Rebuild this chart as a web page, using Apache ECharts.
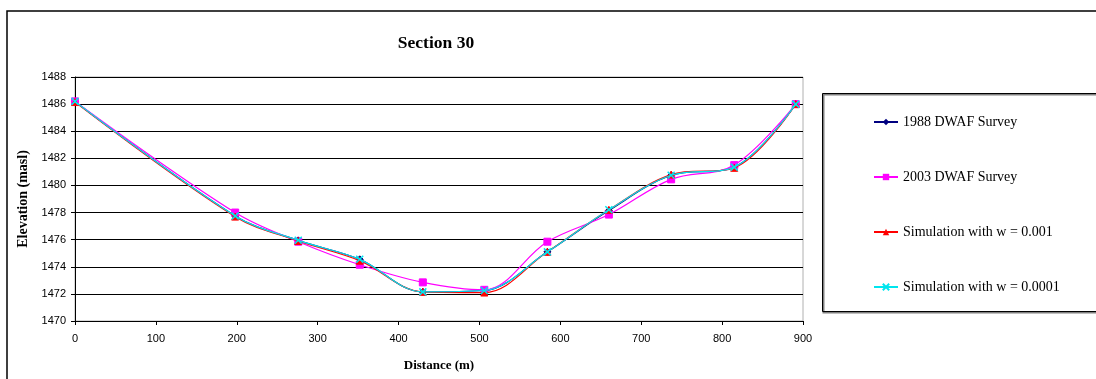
<!DOCTYPE html>
<html>
<head>
<meta charset="utf-8">
<script src="https://cdn.jsdelivr.net/npm/echarts@6/dist/echarts.min.js"></script>
<style>
  html, body { margin: 0; padding: 0; background: #fff; }
  #chart { width: 1096px; height: 379px; }
</style>
</head>
<body>
<div id="chart"></div>
<script>
// Cross-section survey stations (distance along section, m)
const distance = [0, 198, 276, 352, 430, 506, 584, 660, 737, 815, 891];

// Bed elevations (masl) per station
const survey1988 = [1486.2, 1477.75, 1475.95, 1474.55, 1472.15, 1472.25, 1475.1, 1478.15, 1480.75, 1481.35, 1486.0];
const survey2003 = [1486.2, 1478.0, 1475.85, 1474.15, 1472.85, 1472.3, 1475.85, 1477.85, 1480.45, 1481.5, 1486.0];
const simW001    = [1486.15, 1477.7, 1475.9, 1474.45, 1472.15, 1472.1, 1475.1, 1478.2, 1480.8, 1481.3, 1486.0];
const simW0001   = [1486.2, 1477.75, 1475.95, 1474.55, 1472.15, 1472.25, 1475.1, 1478.2, 1480.75, 1481.35, 1486.0];

const seriesNames = ['1988 DWAF Survey', '2003 DWAF Survey', 'Simulation with w = 0.001', 'Simulation with w = 0.0001'];
const xTicks = [0, 100, 200, 300, 400, 500, 600, 700, 800, 900];
const yTicks = [1470, 1472, 1474, 1476, 1478, 1480, 1482, 1484, 1486, 1488];

const pairs = ys => distance.map((d, i) => [d, ys[i]]);

const serif = '"Liberation Serif", "DejaVu Serif", serif';
const sans = '"Liberation Sans", Arial, sans-serif';

const chart = echarts.init(document.getElementById('chart'), null, { renderer: 'canvas' });

const mkSeries = (name, data, color, symbol, size, z) => ({
  name, type: 'line', data: pairs(data), smooth: 0.35,
  symbol, symbolSize: size, z,
  lineStyle: { color, width: 1.2 },
  itemStyle: { color, borderColor: color },
  emphasis: { disabled: true }
});

// x-shaped marker path for the 0.0001 simulation
const crossPath = 'path://M0,0L10,10M10,0L0,10';

chart.setOption({
  animation: false,
  backgroundColor: '#fff',
  title: {
    text: 'Section 30', left: 431, top: 29, textAlign: 'center',
    textStyle: { fontFamily: serif, fontSize: 17.5, fontWeight: 'bold', color: '#000' }
  },
  grid: { left: 75, right: 293, top: 77, bottom: 58, show: true, borderColor: '#b0b0b0', borderWidth: 1, backgroundColor: 'transparent' },
  xAxis: {
    type: 'value', min: 0, max: 900, interval: 100,
    name: 'Distance (m)', nameLocation: 'middle', nameGap: 38,
    nameTextStyle: { fontFamily: serif, fontSize: 13, fontWeight: 'bold', color: '#000' },
    axisLine: { show: true, lineStyle: { color: '#000', width: 1 } },
    axisTick: { show: true, length: 4, lineStyle: { color: '#000' } },
    axisLabel: { fontFamily: sans, fontSize: 11, color: '#000', margin: 12,
      formatter: v => xTicks.includes(v) ? String(v) : '' },
    splitLine: { show: false }
  },
  yAxis: {
    type: 'value', min: 1470, max: 1488, interval: 2,
    name: 'Elevation (masl)', nameLocation: 'middle', nameGap: 43, nameRotate: 90,
    nameTextStyle: { fontFamily: serif, fontSize: 14, fontWeight: 'bold', color: '#000' },
    axisLine: { show: true, lineStyle: { color: '#000', width: 1 } },
    axisTick: { show: true, length: 4, lineStyle: { color: '#000' } },
    axisLabel: { fontFamily: sans, fontSize: 11, color: '#000', margin: 9,
      formatter: v => yTicks.includes(v) ? String(v) : '' },
    splitLine: { show: true, lineStyle: { color: '#000', width: 1 } }
  },
  legend: {
    orient: 'vertical', left: 868, top: 110, itemGap: 41,
    itemWidth: 24, itemHeight: 8,
    data: seriesNames,
    textStyle: { fontFamily: serif, fontSize: 14, color: '#000' }
  },
  graphic: [
    // outer chart frame
    { type: 'rect', shape: { x: 7, y: 11, width: 1200, height: 500 }, silent: true,
      style: { fill: 'none', stroke: '#000', lineWidth: 1.5 }, z: -1 },
    // legend frame with grey shadow
    { type: 'rect', shape: { x: 823.5, y: 94.5, width: 300, height: 218 }, silent: true,
      style: { fill: 'none', stroke: '#808080', lineWidth: 2 }, z: -1 },
    { type: 'rect', shape: { x: 822.5, y: 93.5, width: 300, height: 218 }, silent: true,
      style: { fill: 'none', stroke: '#000', lineWidth: 1 }, z: -1 }
  ],
  series: [
    mkSeries(seriesNames[0], survey1988, '#000080', 'diamond', 7, 2),
    mkSeries(seriesNames[1], survey2003, '#ff00ff', 'rect', 7, 3),
    mkSeries(seriesNames[2], simW001, '#ff0000', 'triangle', 7, 4),
    Object.assign(mkSeries(seriesNames[3], simW0001, '#00e5ee', crossPath, 7, 5), {
      itemStyle: { color: 'none', borderColor: '#00e5ee', borderWidth: 1.5 }
    })
  ]
});
</script>
</body>
</html>
